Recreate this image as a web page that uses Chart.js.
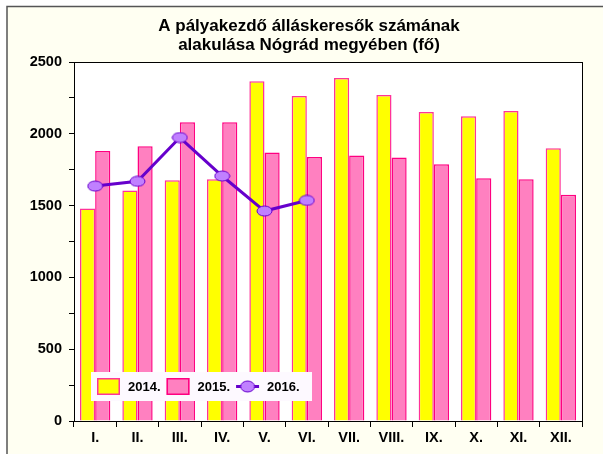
<!DOCTYPE html>
<html>
<head>
<meta charset="utf-8">
<script src="https://cdn.jsdelivr.net/npm/chart.js@4"></script>
<style>
  body { margin: 0; background: #fff; }
  #wrap { width: 603px; height: 454px; }
</style>
</head>
<body>
<div id="wrap"><canvas id="palyakezdo-chart"></canvas></div>
<script>
var honapok = ["I.", "II.", "III.", "IV.", "V.", "VI.", "VII.", "VIII.", "IX.", "X.", "XI.", "XII."];
var ertekek2014 = [1480, 1606, 1676, 1683, 2366, 2263, 2388, 2270, 2151, 2123, 2158, 1899];
var ertekek2015 = [1881, 1913, 2081, 2081, 1869, 1839, 1849, 1835, 1788, 1690, 1683, 1576];
var ertekek2016 = [1636, 1669, 1974, 1706, 1462, 1536];
var cimSorok = ["A pályakezdő álláskeresők számának", "alakulása Nógrád megyében (fő)"];

var betu = "'Liberation Sans', Arial, sans-serif";

// ellipszis alaku pont, mint az eredetin
function ellipszis(w, h) {
    var c = document.createElement("canvas");
    c.width = w + 2;
    c.height = h + 2;
    var g = c.getContext("2d");
    g.beginPath();
    g.ellipse(c.width / 2, c.height / 2, w / 2, h / 2, 0, 0, Math.PI * 2);
    g.fillStyle = "#C080FF";
    g.fill();
    g.lineWidth = 1;
    g.strokeStyle = "#6600CC";
    g.stroke();
    return c;
}
var pontKep = ellipszis(15, 10);
var legendPont = ellipszis(14, 11);

var hatterPlugin = {
    id: "hatter",
    afterLayout: function(chart) {
        // a cim kicsit jobbra all az eredetin
        if (chart.titleBlock) {
            chart.titleBlock.left += 18;
            chart.titleBlock.right += 18;
        }
    },
    beforeDraw: function(chart) {
        var ctx = chart.ctx;
        var a = chart.chartArea;
        ctx.save();
        ctx.fillStyle = "#FFFFF2";
        ctx.fillRect(7, 6, chart.width - 7, chart.height - 6);
        ctx.strokeStyle = "#555";
        ctx.lineWidth = 1.5;
        ctx.beginPath();
        ctx.moveTo(7, chart.height);
        ctx.lineTo(7, 6.5);
        ctx.lineTo(chart.width, 6.5);
        ctx.stroke();
        ctx.fillStyle = "#fff";
        ctx.fillRect(a.left, a.top, a.right - a.left, a.bottom - a.top);
        ctx.restore();
    },
    afterDraw: function(chart) {
        var ctx = chart.ctx;
        var a = chart.chartArea;
        ctx.save();
        ctx.strokeStyle = "#000";
        ctx.lineWidth = 1;
        ctx.strokeRect(a.left + 0.5, a.top + 0.5, a.right - a.left, a.bottom - a.top);

        // jelmagyarazat a rajzterulet aljan
        var lx = a.left + 17, ly = a.bottom - 49, lw = 221, lh = 29;
        ctx.fillStyle = "#FDF9FF";
        ctx.fillRect(lx, ly, lw, lh);
        ctx.font = "bold 13px " + betu;
        ctx.textBaseline = "middle";
        var cy = ly + lh / 2;
        var x = lx + 6;
        chart.data.datasets.forEach(function(ds) {
            if (ds.type === "line") {
                ctx.strokeStyle = ds.borderColor;
                ctx.lineWidth = 3;
                ctx.beginPath();
                ctx.moveTo(x, cy);
                ctx.lineTo(x + 23, cy);
                ctx.stroke();
                ctx.drawImage(legendPont, x + 11.5 - legendPont.width / 2, cy - legendPont.height / 2);
            } else {
                ctx.fillStyle = ds.backgroundColor;
                ctx.fillRect(x, cy - 8.5, 23, 17);
                ctx.strokeStyle = ds.borderColor;
                ctx.lineWidth = 1.5;
                ctx.strokeRect(x + 0.75, cy - 7.75, 21.5, 15.5);
            }
            x += 23 + 8;
            ctx.fillStyle = "#000";
            ctx.fillText(ds.label, x, cy + 0.5);
            x += ctx.measureText(ds.label).width + 6;
        });
        ctx.restore();
    }
};

var ctx = document.getElementById("palyakezdo-chart").getContext("2d");
var myChart = new Chart(ctx, {
    type: "bar",
    data: {
        labels: honapok,
        datasets: [{
            label: "2014.",
            data: ertekek2014,
            backgroundColor: "#FFFF00",
            borderColor: "#FF3399",
            borderWidth: 1.5,
            order: 1
        }, {
            label: "2015.",
            data: ertekek2015,
            backgroundColor: "#FF80C0",
            borderColor: "#FF0080",
            borderWidth: 1.5,
            order: 2
        }, {
            type: "line",
            label: "2016.",
            data: ertekek2016,
            borderColor: "#6600CC",
            borderWidth: 3,
            pointStyle: pontKep,
            order: 0
        }]
    },
    options: {
        responsive: true,
        maintainAspectRatio: false,
        animation: false,
        datasets: {
            bar: { categoryPercentage: 0.716, barPercentage: 1 }
        },
        layout: { padding: { left: 0, right: 21, top: 0, bottom: 0 } },
        plugins: {
            legend: { display: false },
            tooltip: { enabled: false },
            title: {
                display: true,
                text: cimSorok,
                color: "#000",
                font: { family: betu, size: 17, weight: "bold", lineHeight: 1.1 },
                padding: { top: 17.2, bottom: 7.4 }
            }
        },
        scales: {
            x: {
                afterFit: function(scale) { scale.height = 33; },
                grid: { drawOnChartArea: false, tickLength: 6, color: "#000" },
                border: { color: "#000" },
                ticks: {
                    color: "#000",
                    padding: 2,
                    maxRotation: 0,
                    autoSkip: false,
                    font: { family: betu, size: 14.5, weight: "bold" }
                }
            },
            y: {
                min: 0,
                max: 2500,
                afterFit: function(scale) { scale.width = 74; },
                grid: { drawOnChartArea: false, tickLength: 5, color: "#000" },
                border: { color: "#000" },
                ticks: {
                    stepSize: 250,
                    autoSkip: false,
                    color: "#000",
                    padding: 7,
                    font: { family: betu, size: 14.5, weight: "bold" },
                    callback: function(v) { return v % 500 === 0 ? v : ""; }
                }
            }
        }
    },
    plugins: [hatterPlugin]
});
</script>
</body>
</html>
